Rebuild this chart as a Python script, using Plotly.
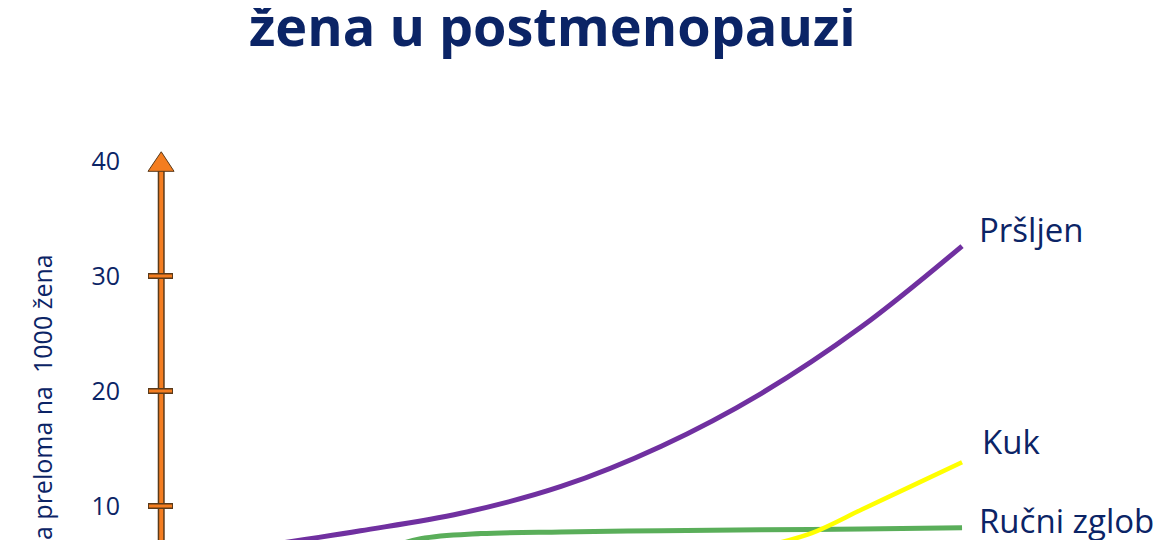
import plotly.graph_objects as go

# age (years) vs fractures per 1000 women
age_prsljen = [50, 55, 60, 65, 70, 75, 80, 85]
prsljen = [6.5, 7.85, 9.37, 11.7, 15.2, 19.8, 25.6, 32.6]

age_zglob = [50, 55, 58, 61, 65, 70, 75, 80, 85]
zglob = [2.0, 5.5, 7.15, 7.6, 7.75, 7.85, 7.93, 8.0, 8.1]

age_kuk = [70, 75, 77.5, 80, 82.5, 85]
kuk = [4.0, 6.4, 7.65, 9.7, 11.75, 13.8]

y_ticks = [10, 20, 30, 40]

navy = "#0B2466"
orange = "#F47D20"
edge = "#5a3a1a"
font = "Open Sans"

fig = go.Figure()

fig.add_trace(go.Scatter(x=age_prsljen, y=prsljen, mode="lines",
                         line=dict(color="#7030A0", width=5, shape="spline"),
                         name="Pršljen"))
fig.add_trace(go.Scatter(x=age_zglob, y=zglob, mode="lines",
                         line=dict(color="#5AAE5A", width=5, shape="spline"),
                         name="Ručni zglob"))
fig.add_trace(go.Scatter(x=age_kuk, y=kuk, mode="lines",
                         line=dict(color="#FFFF00", width=4.5, shape="spline"),
                         name="Kuk"))

# orange axis with arrow (paper x: 1 unit = 1018 px)
ax_x = 0.0012
shapes = []
shapes.append(dict(type="line", xref="paper", yref="y", x0=ax_x, x1=ax_x,
                   y0=0, y1=39.3, line=dict(color=edge, width=7)))
shapes.append(dict(type="line", xref="paper", yref="y", x0=ax_x, x1=ax_x,
                   y0=0, y1=39.3, line=dict(color=orange, width=4)))
for t in y_ticks[:-1]:
    shapes.append(dict(type="line", xref="paper", yref="y", x0=-0.0118, x1=0.0128,
                       y0=t, y1=t, line=dict(color=edge, width=6)))
    shapes.append(dict(type="line", xref="paper", yref="y", x0=-0.0108, x1=0.0118,
                       y0=t, y1=t, line=dict(color=orange, width=3)))
shapes.append(dict(type="path", xref="paper", yref="y",
                   path="M -0.0118,39.1 L 0.0138,39.1 L 0.0012,40.8 Z",
                   fillcolor=orange, line=dict(color=edge, width=1)))

annotations = [
    dict(text="<b>žena u postmenopauzi</b>", xref="paper", yref="paper",
         x=0.386, y=0.968, xanchor="center", yanchor="middle", showarrow=False,
         font=dict(family=font, size=54, color=navy)),
    dict(text="a preloma na  1000 žena", xref="paper", yref="paper",
         x=-0.1159, y=0.2796, xanchor="center", yanchor="middle",
         textangle=-90, showarrow=False,
         font=dict(family=font, size=25, color=navy)),
    dict(text="Pršljen", x=85.75, y=34.0, xanchor="left", yanchor="middle",
         showarrow=False, font=dict(family=font, size=33, color=navy)),
    dict(text="Kuk", x=85.9, y=15.65, xanchor="left", yanchor="middle",
         showarrow=False, font=dict(family=font, size=33, color=navy)),
    dict(text="Ručni zglob", x=85.75, y=8.7, xanchor="left", yanchor="middle",
         showarrow=False, font=dict(family=font, size=33, color=navy)),
]

fig.update_layout(
    width=1170, height=540,
    margin=dict(l=152, r=0, t=0, b=0),
    plot_bgcolor="white", paper_bgcolor="white",
    showlegend=False,
    shapes=shapes,
    annotations=annotations,
    xaxis=dict(range=[45, 95.77], visible=False),
    yaxis=dict(range=[6.35, 53.3], tickvals=y_ticks, showgrid=False,
               zeroline=False, showline=False, ticks="",
               ticklabelstandoff=39,
               tickfont=dict(family=font, size=25, color=navy)),
)

fig.write_html("out.html")
